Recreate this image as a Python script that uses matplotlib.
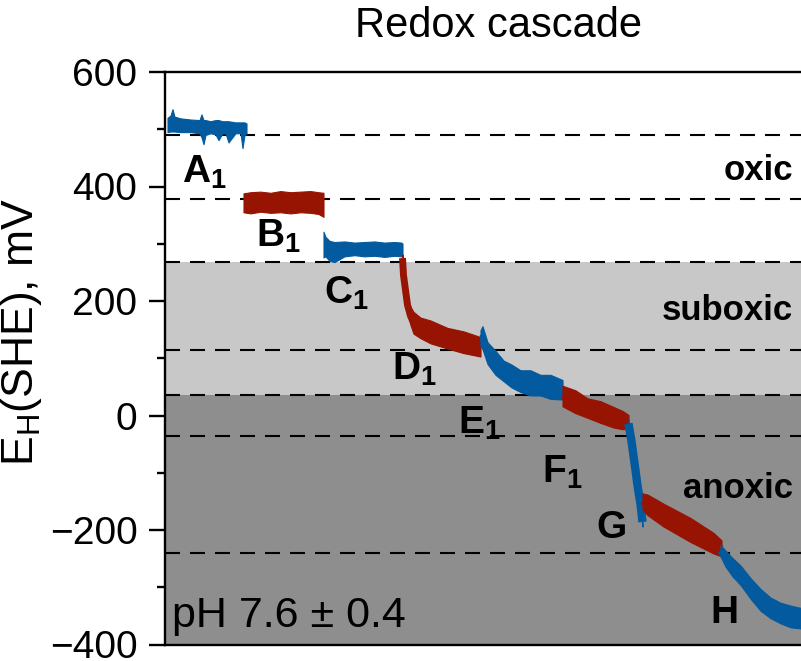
import matplotlib
matplotlib.use('Agg')
import matplotlib.pyplot as plt
from matplotlib.ticker import MultipleLocator

plt.rcParams['font.family'] = ['Liberation Sans', 'DejaVu Sans']
plt.rcParams['mathtext.fontset'] = 'custom'
plt.rcParams['mathtext.rm'] = 'Liberation Sans'
plt.rcParams['mathtext.bf'] = 'Liberation Sans:bold'

BLUE = '#035a9e'
RED = '#981402'

# potential zones, mV
suboxic_top = 268
anoxic_top = 36
ref_levels = [490, 378, 268, 115, 36, -36, -240]

# A1 plateau (blue), upper/lower envelope of the noisy record
a1_t = [3, 6, 8, 10, 16, 26, 35, 37, 39, 41, 46, 51, 54, 58, 61, 64, 71, 76, 78, 80, 82]
a1_hi = [520, 524, 535, 522, 519, 517, 516, 526, 516, 516, 514, 516, 516, 514, 514, 514, 512, 512, 512, 512, 510]
a1_lo = [495, 496, 496, 496, 495, 495, 493, 486, 474, 490, 493, 491, 481, 493, 493, 477, 493, 493, 467, 490, 493]

# B1 plateau (red)
b1_t = [79, 86, 96, 106, 116, 126, 136, 146, 154, 159]
b1_hi = [388, 390, 391, 389, 392, 390, 391, 392, 390, 389]
b1_lo = [355, 353, 356, 354, 355, 353, 355, 354, 352, 347]

# C1 plateau (blue)
c1_t = [159, 161, 165, 170, 180, 190, 200, 210, 220, 230, 237, 238]
c1_hi = [321, 312, 305, 303, 304, 302, 303, 304, 302, 303, 302, 300]
c1_lo = [276, 278, 270, 268, 278, 280, 278, 279, 277, 279, 278, 280]

# decay segments: centre of the trace and half-width of the noise band
d1_t = [238, 239, 241, 243, 246, 249, 256, 266, 283, 299, 316]
d1_e = [275, 245, 219, 193, 174, 162, 153, 146, 135, 128, 120]
d1_w = [6, 7, 9, 12, 16, 19, 18, 20, 18, 19, 17]
e1_t = [316, 318, 323, 331, 339, 347, 356, 366, 376, 386, 398]
e1_e = [135, 136, 109, 92, 78, 69, 60, 57, 53, 50, 45]
e1_w = [14, 20, 19, 21, 18, 20, 19, 22, 18, 21, 17]
f1_t = [398, 411, 423, 436, 449, 458, 464]
f1_e = [34, 24, 13, 6, -3, -8, -11]
f1_w = [18, 20, 17, 19, 18, 16, 12]
g_drop_t = [464, 467, 470, 473, 476, 478]
g_drop_e = [-14, -45, -83, -122, -155, -186]
g_drop_w = [8, 8, 8, 8, 8, 8]
g_t = [478, 483, 499, 526, 549, 557]
g_e = [-150, -156, -174, -200, -223, -232]
g_w = [14, 18, 20, 21, 18, 14]
h_t = [556, 561, 568, 576, 586, 596, 606, 616, 626, 636]
h_e = [-236, -250, -265, -279, -302, -322, -336, -345, -351, -354]
h_w = [10, 14, 16, 17, 18, 19, 18, 18, 19, 18]

# (t, centre, half-width, colour, stroke width of the centre line)
segments = [
    (d1_t, d1_e, d1_w, RED, 5),
    (e1_t, e1_e, e1_w, BLUE, 4.5),
    (f1_t, f1_e, f1_w, RED, 4.5),
    (g_drop_t, g_drop_e, g_drop_w, BLUE, 6),
    (g_t, g_e, g_w, RED, 4.5),
    (h_t, h_e, h_w, BLUE, 4.5),
]

# electrode labels: text, t, baseline potential
labels = [
    (r'$\mathbf{A}_{\mathbf{1}}$', 17, 406),
    (r'$\mathbf{B}_{\mathbf{1}}$', 92, 294),
    (r'$\mathbf{C}_{\mathbf{1}}$', 160, 196),
    (r'$\mathbf{D}_{\mathbf{1}}$', 227, 62),
    (r'$\mathbf{E}_{\mathbf{1}}$', 294, -31),
    (r'$\mathbf{F}_{\mathbf{1}}$', 378, -118),
    (r'$\mathbf{G}$', 431, -214),
    (r'$\mathbf{H}$', 545, -362),
]
zones = [('oxic', 180), ('suboxic', 320), ('anoxic', 498)]

fig = plt.figure(figsize=(8.01, 6.61), dpi=100)
ax = fig.add_axes([164.5 / 801, 1 - 644.5 / 661, 1 - 164.5 / 801, (644.5 - 72) / 661])
ax.set_xlim(0, 636.5)
ax.set_ylim(-400, 600)

ax.axhspan(anoxic_top, suboxic_top, color='#c8c8c8', lw=0, zorder=0)
ax.axhspan(-400, anoxic_top, color='#8e8e8e', lw=0, zorder=0)
for lev in ref_levels:
    ax.axhline(lev, color='black', lw=1.5, ls=(0, (7.2, 4.8)), zorder=1)

for t, hi, lo, c in [(a1_t, a1_hi, a1_lo, BLUE), (b1_t, b1_hi, b1_lo, RED), (c1_t, c1_hi, c1_lo, BLUE)]:
    ax.fill_between(t, lo, hi, color=c, lw=0.8, edgecolor=c, zorder=2)

for t, e, w, c, lw in segments:
    lo = [v - d for v, d in zip(e, w)]
    hi = [v + d for v, d in zip(e, w)]
    ax.fill_between(t, lo, hi, color=c, lw=0.8, edgecolor=c, zorder=2)
    ax.plot(t, e, color=c, lw=lw, solid_capstyle='butt', zorder=2)

for txt, t, e in labels:
    ax.text(t, e, txt, fontsize=28, ha='left', va='baseline', zorder=3)

for txt, ypx in zones:
    fig.text(793 / 801, 1 - ypx / 661, txt, fontsize=25, fontweight='bold', ha='right', va='baseline')

fig.text(172 / 801, 1 - 627 / 661, 'pH 7.6 ± 0.4', fontsize=31, ha='left', va='baseline')
fig.text(498.5 / 801, 1 - 37 / 661, 'Redox cascade', fontsize=30, ha='center', va='baseline')
fig.text(22 / 801, 1 - 332 / 661, r'E$_\mathrm{H}$(SHE), mV', fontsize=32, rotation=90, ha='center', va='center')

ax.yaxis.set_major_locator(MultipleLocator(200))
ax.yaxis.set_minor_locator(MultipleLocator(100))
ax.tick_params(axis='y', which='major', direction='out', length=11.5, width=1.7, labelsize=28, pad=8)
ax.tick_params(axis='y', which='minor', direction='out', length=5.8, width=1.7)
ax.set_xticks([])
ax.spines['right'].set_visible(False)
for s in ['left', 'top', 'bottom']:
    ax.spines[s].set_linewidth(1.7)

fig.savefig('out.png', dpi=100)
